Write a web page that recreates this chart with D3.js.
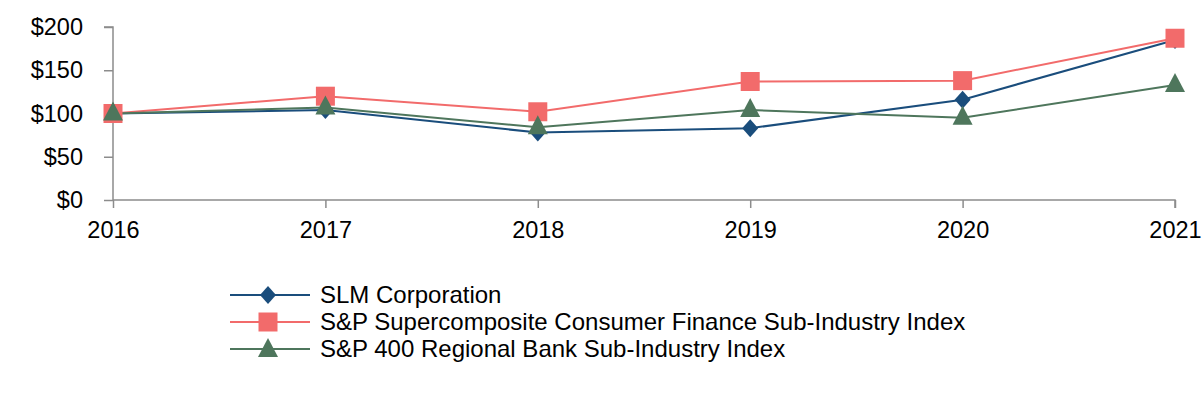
<!DOCTYPE html>
<html><head><meta charset="utf-8">
<script src="https://cdn.jsdelivr.net/npm/d3@7"></script>
<style>body{margin:0;background:#fff}svg{display:block;font-family:"Liberation Sans",Arial,sans-serif}</style>
</head><body><svg id="c" width="1202" height="400"></svg>
<script>
const years = [2016, 2017, 2018, 2019, 2020, 2021];
const slm = [100, 104, 78, 83, 116, 185];
const consumerFinance = [100, 120, 102, 137, 138, 187];
const regionalBank = [100, 107, 84, 104, 95, 133];
const yTicks = [0, 50, 100, 150, 200];
const seriesNames = ["SLM Corporation", "S&P Supercomposite Consumer Finance Sub-Industry Index", "S&P 400 Regional Bank Sub-Industry Index"];

const svg = d3.select("#c");
const x = d3.scalePoint().domain(years).range([113, 1175]);
const y = d3.scaleLinear().domain([0, 200]).range([200, 27]);

const yAxis = svg.append("g").attr("transform", "translate(113,0)")
  .call(d3.axisLeft(y).tickValues(yTicks).tickFormat(d => "$" + d).tickSize(9).tickPadding(21));
const xAxis = svg.append("g").attr("transform", "translate(0,200)")
  .call(d3.axisBottom(x).tickSize(8).tickPadding(13));
[yAxis, xAxis].forEach(g => {
  g.selectAll("path,line").attr("stroke", "#8c8c8c").attr("stroke-width", 1.5);
  g.selectAll("text").attr("font-size", 23.5).attr("fill", "#000").attr("font-family", '"Liberation Sans",Arial,sans-serif');
});
xAxis.select(".domain").attr("d", "M113,0H1175V8");
yAxis.select(".domain").attr("d", "M-9,27H0V200");

const series = [
  {name: seriesNames[0], vals: slm, color: "#1a4d7c", sym: "diamond"},
  {name: seriesNames[1], vals: consumerFinance, color: "#f26b6b", sym: "square"},
  {name: seriesNames[2], vals: regionalBank, color: "#4e765c", sym: "triangle"}
];
function sym(type) {
  if (type === "diamond") return "M0,-9L8,0L0,9L-8,0Z";
  if (type === "square") return "M-9.5,-9.5H9.5V9.5H-9.5Z";
  return "M0,-11L10,8H-10Z";
}
const line = d3.line().x((d, i) => x(years[i])).y(d => y(d));
series.forEach(s => {
  svg.append("path").datum(s.vals).attr("d", line).attr("fill", "none").attr("stroke", s.color).attr("stroke-width", 2);
});
series.forEach(s => {
  svg.append("g").selectAll("path").data(s.vals).join("path")
    .attr("transform", (d, i) => `translate(${x(years[i])},${y(d) + (s.sym === "triangle" ? -1 : 0)})`)
    .attr("d", sym(s.sym)).attr("fill", s.color);
});

const leg = svg.append("g");
series.forEach((s, i) => {
  const ly = 295 + i * 27;
  leg.append("line").attr("x1", 230).attr("x2", 310).attr("y1", ly).attr("y2", ly).attr("stroke", s.color).attr("stroke-width", 2);
  leg.append("path").attr("transform", `translate(268,${ly})`).attr("d", sym(s.sym)).attr("fill", s.color);
  leg.append("text").attr("x", 320).attr("y", ly + 8).attr("font-size", 24).attr("fill", "#000").text(s.name);
});
</script></body></html>
